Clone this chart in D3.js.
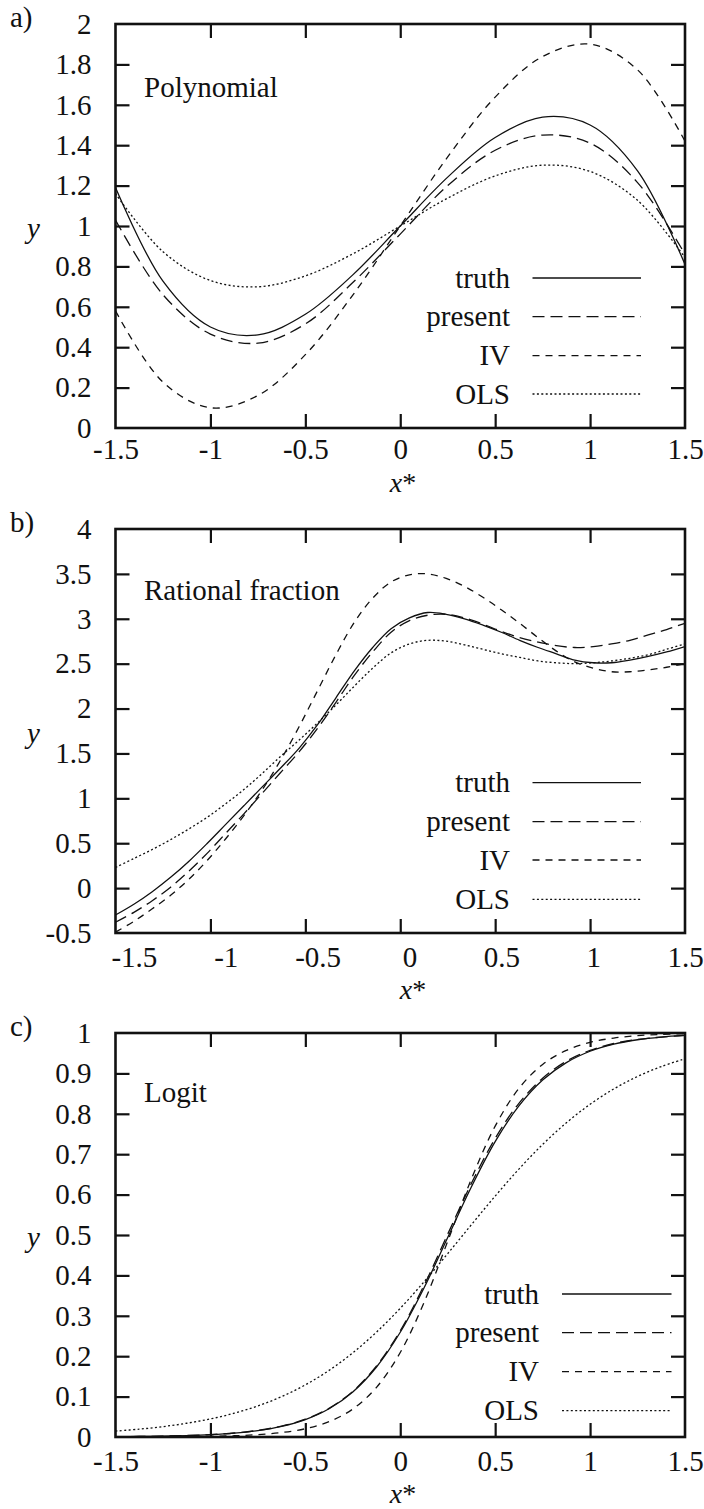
<!DOCTYPE html>
<html><head><meta charset="utf-8">
<script src="https://cdn.jsdelivr.net/npm/d3@7"></script>
<style>
body{margin:0;background:#fff}
svg{display:block}
text{font-family:"Liberation Serif","Times New Roman",serif;fill:#111}
</style>
</head><body>
<svg id="chart" width="704" height="1509"></svg>
<script>
// ---------- data ----------
const seriesNames = ["truth", "present", "IV", "OLS"];

// a) Polynomial
const polyX       = [-1.5, -1.25, -1, -0.75, -0.5, -0.25, 0, 0.25, 0.5, 0.75, 1, 1.25, 1.5];
const polyTruth   = [1.19, 0.727, 0.50, 0.461, 0.563, 0.758, 1.00, 1.242, 1.438, 1.539, 1.50, 1.273, 0.81];
const polyPresent = [1.03, 0.66, 0.465, 0.42, 0.515, 0.72, 0.96, 1.20, 1.375, 1.45, 1.41, 1.215, 0.86];
const polyIV      = [0.58, 0.227, 0.10, 0.161, 0.363, 0.658, 1.00, 1.342, 1.638, 1.839, 1.90, 1.773, 1.42];
const polyOLS     = [1.16, 0.873, 0.73, 0.699, 0.753, 0.862, 1.00, 1.138, 1.248, 1.301, 1.27, 1.127, 0.844];

// b) Rational fraction
const ratX       = [-1.6,-1.5,-1.4,-1.3,-1.2,-1.1,-1.0,-0.9,-0.8,-0.7,-0.6,-0.5,-0.4,-0.3,-0.2,-0.1,0,0.1,0.2,0.3,0.4,0.5,0.6,0.7,0.8,0.9,1.0,1.1,1.2,1.3,1.4,1.5];
const ratTruth   = [-0.30,-0.18,-0.04,0.12,0.30,0.50,0.71,0.92,1.13,1.34,1.56,1.82,2.12,2.42,2.68,2.89,3.01,3.07,3.05,3.00,2.93,2.85,2.76,2.68,2.61,2.54,2.51,2.51,2.54,2.58,2.63,2.69];
const ratPresent = [-0.38,-0.27,-0.14,0.01,0.19,0.39,0.61,0.83,1.06,1.29,1.52,1.78,2.07,2.37,2.63,2.85,2.98,3.04,3.05,3.01,2.94,2.86,2.79,2.74,2.70,2.68,2.69,2.72,2.76,2.82,2.88,2.95];
const ratIV      = [-0.49,-0.37,-0.23,-0.08,0.10,0.31,0.55,0.81,1.10,1.43,1.80,2.20,2.60,2.96,3.23,3.41,3.49,3.50,3.45,3.36,3.24,3.10,2.95,2.79,2.64,2.52,2.45,2.41,2.41,2.43,2.46,2.50];
const ratOLS     = [0.23,0.33,0.43,0.54,0.66,0.79,0.94,1.10,1.28,1.47,1.65,1.84,2.04,2.25,2.45,2.62,2.72,2.76,2.75,2.71,2.66,2.61,2.57,2.53,2.51,2.50,2.51,2.53,2.56,2.60,2.66,2.72];

// c) Logit
const logX       = [-1.5,-1.375,-1.25,-1.125,-1,-0.875,-0.75,-0.625,-0.5,-0.375,-0.25,-0.125,0,0.125,0.25,0.375,0.5,0.625,0.75,0.875,1,1.125,1.25,1.375,1.5];
const logTruth   = [0.0008,0.0012,0.0021,0.0035,0.0058,0.0096,0.0159,0.0263,0.0431,0.0699,0.1116,0.1733,0.2592,0.3688,0.4938,0.6195,0.7311,0.8194,0.8834,0.9267,0.9548,0.9724,0.9833,0.9899,0.9939];
const logPresent = [0.0008,0.0013,0.0022,0.0036,0.0060,0.0099,0.0164,0.0270,0.0440,0.0710,0.1130,0.1760,0.2630,0.3750,0.5020,0.6280,0.7390,0.8260,0.8880,0.9300,0.9570,0.9740,0.9840,0.9900,0.9940];
const logIV      = [0.0001,0.0003,0.0005,0.0009,0.0017,0.0031,0.0059,0.0110,0.0205,0.0380,0.0692,0.1230,0.2092,0.3327,0.4844,0.6390,0.7694,0.8628,0.9222,0.9571,0.9768,0.9875,0.9934,0.9965,0.9981];
const logOLS     = [0.0146,0.0194,0.0257,0.0340,0.0448,0.0588,0.0769,0.1000,0.1290,0.1649,0.2083,0.2597,0.3186,0.3840,0.4539,0.5256,0.5963,0.6632,0.7241,0.7777,0.8235,0.8616,0.8924,0.9170,0.9364];

// tick labels
const xTickLabels = [-1.5, -1, -0.5, 0, 0.5, 1, 1.5];
const yTicksA = [0, 0.2, 0.4, 0.6, 0.8, 1, 1.2, 1.4, 1.6, 1.8, 2];
const yTicksB = [-0.5, 0, 0.5, 1, 1.5, 2, 2.5, 3, 3.5, 4];
const yTicksC = [0, 0.1, 0.2, 0.3, 0.4, 0.5, 0.6, 0.7, 0.8, 0.9, 1];

// ---------- layout / style ----------
const L = 115.5, R = 685, H = 404;
const FS = 29;
const dashes = {truth: null, present: "12,6", IV: "7,6", OLS: "2,2.4"};
const fmt = d => String(+d.toFixed(2));

const panels = [
  {letter: "a)", title: "Polynomial", top: 24, xDom: [-1.5, 1.5], markDom: [-1.5, 1.5], yDom: [0, 2], yTicks: yTicksA,
   xs: polyX, ys: [polyTruth, polyPresent, polyIV, polyOLS], labOff: 31, xtOff: 64, xLabX: 403,
   leg: {tx: 510, x1: 532.5, x2: 641, rows: [-150, -111.3, -72.3, -34]}},
  {letter: "b)", title: "Rational fraction", top: 529, xDom: [-1.6, 1.5], markDom: [-1.5, 1.5], yDom: [-0.5, 4], yTicks: yTicksB,
   xs: ratX, ys: [ratTruth, ratPresent, ratIV, ratOLS], labOff: 34, xtOff: 66, xLabX: 413,
   leg: {tx: 510, x1: 532.5, x2: 641, rows: [-150.3, -111.3, -73, -33.7]}},
  {letter: "c)", title: "Logit", top: 1033, xDom: [-1.5, 1.5], markDom: [-1.5, 1.5], yDom: [0, 1], yTicks: yTicksC,
   xs: logX, ys: [logTruth, logPresent, logIV, logOLS], labOff: 34, xtOff: 66, xLabX: 403,
   leg: {tx: 539, x1: 562, x2: 671.5, rows: [-143, -104.3, -65.3, -26.3]}}
];

const svg = d3.select("#chart");

panels.forEach((p, pi) => {
  const top = p.top, bottom = top + H;
  const x = d3.scaleLinear().domain(p.xDom).range([L, R]);
  const xm = d3.scaleLinear().domain(p.markDom).range([L, R]);
  const y = d3.scaleLinear().domain(p.yDom).range([bottom, top]);
  const g = svg.append("g");

  const cid = "clip" + pi;
  svg.append("clipPath").attr("id", cid).append("rect")
    .attr("x", L).attr("y", top).attr("width", R - L).attr("height", H);

  // inward tick marks on all four sides
  const markVals = [-1, -0.5, 0, 0.5, 1];
  const tickStyle = sel => {
    sel.select(".domain").remove();
    sel.selectAll(".tick line").attr("stroke", "#111").attr("stroke-width", 2.2);
    sel.selectAll(".tick text").remove();
  };
  g.append("g").attr("transform", `translate(0,${bottom})`)
    .call(d3.axisBottom(xm).tickValues(markVals).tickSize(-14)).call(tickStyle);
  g.append("g").attr("transform", `translate(0,${top})`)
    .call(d3.axisTop(xm).tickValues(markVals).tickSize(-14)).call(tickStyle);
  const yInner = p.yTicks.slice(1, -1);
  g.append("g").attr("transform", `translate(${R},0)`)
    .call(d3.axisRight(y).tickValues(yInner).tickSize(-14)).call(tickStyle);

  // left axis with labels
  const ya = g.append("g").attr("transform", `translate(${L},0)`)
    .call(d3.axisLeft(y).tickValues(p.yTicks).tickFormat(fmt).tickSize(-14).tickPadding(24));
  ya.select(".domain").remove();
  ya.selectAll(".tick line").attr("stroke", "#111").attr("stroke-width", 2.2)
    .filter(d => d === p.yTicks[0] || d === p.yTicks[p.yTicks.length - 1]).remove();
  ya.selectAll(".tick text").attr("font-size", FS).attr("fill", "#111")
    .attr("font-family", "Liberation Serif, serif");

  // bottom labels
  const xa = g.append("g").attr("transform", `translate(0,${bottom})`)
    .call(d3.axisBottom(x).tickValues(xTickLabels).tickFormat(fmt).tickSize(0).tickPadding(0));
  xa.select(".domain").remove();
  xa.selectAll(".tick line").remove();
  xa.selectAll(".tick text").attr("font-size", FS).attr("fill", "#111")
    .attr("font-family", "Liberation Serif, serif").attr("dy", null).attr("y", p.labOff);

  // curves
  const line = d3.line().x(d => x(d[0])).y(d => y(d[1])).curve(d3.curveCatmullRom.alpha(0.5));
  const cg = g.append("g").attr("clip-path", `url(#${cid})`);
  seriesNames.forEach((name, si) => {
    const pts = p.xs.map((xv, i) => [xv, p.ys[si][i]]);
    cg.append("path").datum(pts).attr("d", line)
      .attr("fill", "none").attr("stroke", "#111").attr("stroke-width", 1.3)
      .attr("stroke-dasharray", dashes[name]);
  });

  // frame
  g.append("rect").attr("x", L).attr("y", top).attr("width", R - L).attr("height", H)
    .attr("fill", "none").attr("stroke", "#111").attr("stroke-width", 2.6);

  // legend
  seriesNames.forEach((name, si) => {
    const ly = bottom + p.leg.rows[si];
    g.append("text").attr("x", p.leg.tx).attr("y", ly).attr("dy", "0.33em")
      .attr("text-anchor", "end").attr("font-size", FS).text(name);
    g.append("line").attr("x1", p.leg.x1).attr("x2", p.leg.x2).attr("y1", ly).attr("y2", ly)
      .attr("stroke", "#111").attr("stroke-width", 1.3).attr("stroke-dasharray", dashes[name]);
  });

  // panel letter, title, axis titles
  g.append("text").attr("x", 10).attr("y", top + 3).attr("font-size", FS).text(p.letter);
  g.append("text").attr("x", 144).attr("y", top + (pi === 0 ? 73 : pi === 1 ? 71 : 69)).attr("font-size", FS).text(p.title);
  g.append("text").attr("x", 27).attr("y", top + H / 2 + 12).attr("font-size", FS)
    .attr("font-style", "italic").text("y");
  const xt = g.append("text").attr("x", p.xLabX).attr("y", bottom + p.xtOff).attr("font-size", 28)
    .attr("text-anchor", "middle");
  xt.append("tspan").attr("font-style", "italic").text("x");
  xt.append("tspan").text("*");
});
</script>
</body></html>
